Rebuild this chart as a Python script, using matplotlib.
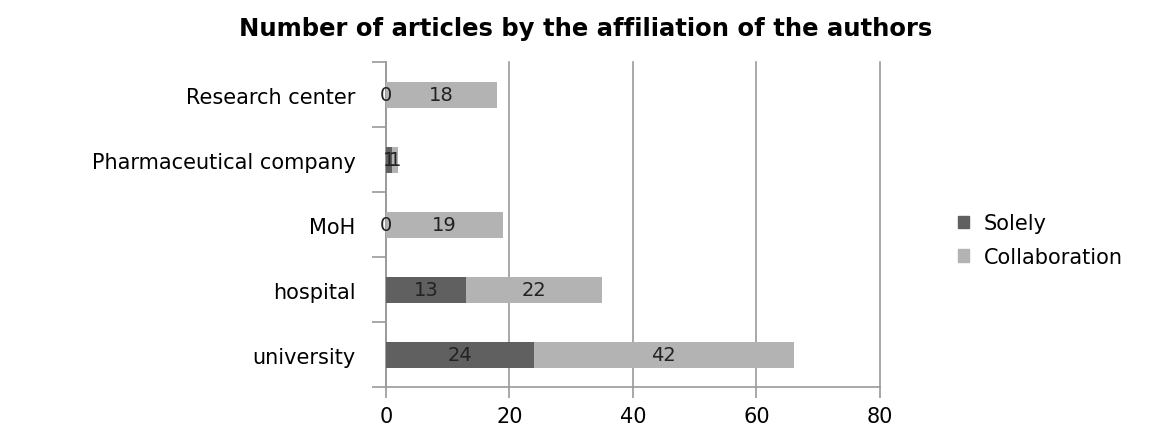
import matplotlib
matplotlib.use('Agg')
import matplotlib.pyplot as plt
from matplotlib.patches import Patch

categories = ['university', 'hospital', 'MoH', 'Pharmaceutical company', 'Research center']
solely = [24, 13, 0, 1, 0]
collaboration = [42, 22, 19, 1, 18]

dark = '#606060'
light = '#b3b3b3'
gridc = '#9a9a9a'

fig = plt.figure(figsize=(11.71, 4.27), dpi=100)
ax = fig.add_axes([0.3296, 0.0913, 0.4219, 0.7611])

y = range(len(categories))
ax.barh(y, solely, height=0.4, color=dark, zorder=3)
ax.barh(y, collaboration, left=solely, height=0.4, color=light, zorder=3)

# value labels in the middle of each segment
for i in y:
    ax.text(solely[i] / 2, i, str(solely[i]), ha='center', va='center',
            fontsize=14, color='#222222', zorder=4)
    ax.text(solely[i] + collaboration[i] / 2, i, str(collaboration[i]),
            ha='center', va='center', fontsize=14, color='#222222', zorder=4)

ax.set_xlim(0, 80)
ax.set_ylim(-0.5, len(categories) - 0.5)
ax.set_xticks([0, 20, 40, 60, 80])
ax.set_yticks(list(y))
ax.set_yticklabels(categories)
ax.set_yticks([k + 0.5 for k in range(-1, len(categories))], minor=True)
ax.tick_params(axis='y', which='major', length=0, pad=22, labelsize=15)
ax.tick_params(axis='y', which='minor', length=10, color=gridc, width=1.2)
ax.tick_params(axis='x', length=8, color=gridc, width=1.2, labelsize=15, pad=6)
ax.xaxis.grid(True, color=gridc, linewidth=1.2, zorder=0)
for gl in ax.get_xgridlines():
    gl.set_clip_on(False)

for s in ['top', 'right']:
    ax.spines[s].set_visible(False)
ax.spines['left'].set_color(gridc)
ax.spines['left'].set_linewidth(1.2)
ax.spines['bottom'].set_color(gridc)
ax.spines['bottom'].set_linewidth(1.2)

fig.suptitle('Number of articles by the affiliation of the authors',
             x=0.5, y=0.96, fontsize=17.5, fontweight='bold')

handles = [Patch(color=dark, label='Solely'), Patch(color=light, label='Collaboration')]
fig.legend(handles=handles, loc='center left', bbox_to_anchor=(0.802, 0.435),
           frameon=False, fontsize=15, handlelength=0.55, handleheight=0.55,
           handletextpad=0.7, labelspacing=0.65)

fig.savefig('out.png', dpi=100)
